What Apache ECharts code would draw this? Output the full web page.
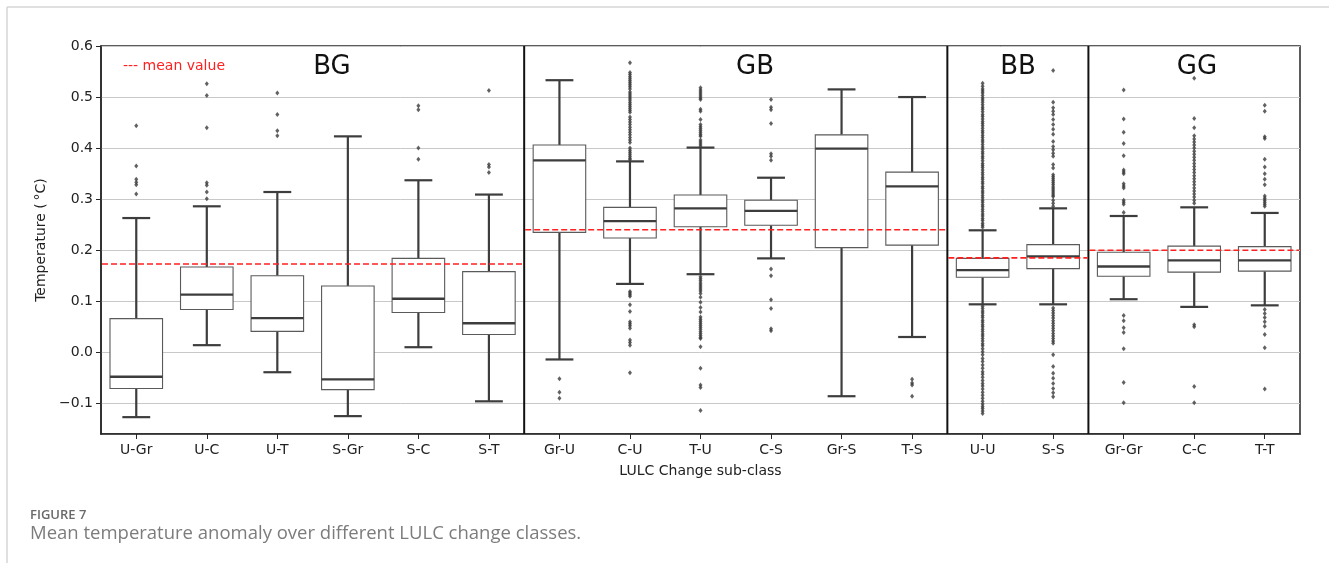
<!DOCTYPE html>
<html>
<head>
<meta charset="utf-8">
<script src="https://cdn.jsdelivr.net/npm/echarts@6/dist/echarts.min.js"></script>
<style>html,body{margin:0;padding:0;background:#fff}#c{width:1329px;height:563px}</style>
</head>
<body>
<div id="c"></div>
<script>
// ---------- data ----------
const categories = ['U-Gr','U-C','U-T','S-Gr','S-C','S-T','Gr-U','C-U','T-U','C-S','Gr-S','T-S','U-U','S-S','Gr-Gr','C-C','T-T'];
const whiskerLow  = [-0.127,0.014,-0.039,-0.125,0.010,-0.096,-0.014,0.134,0.153,0.184,-0.086,0.030,0.094,0.094,0.104,0.089,0.092];
const q1          = [-0.071,0.084,0.041,-0.073,0.078,0.035,0.235,0.224,0.246,0.249,0.205,0.210,0.147,0.164,0.149,0.157,0.159];
const median      = [-0.048,0.113,0.067,-0.053,0.105,0.057,0.376,0.257,0.282,0.277,0.399,0.325,0.161,0.188,0.168,0.180,0.180];
const q3          = [0.066,0.167,0.150,0.130,0.184,0.158,0.406,0.284,0.308,0.298,0.426,0.353,0.184,0.211,0.196,0.208,0.207];
const whiskerHigh = [0.263,0.286,0.314,0.423,0.337,0.309,0.533,0.374,0.401,0.342,0.515,0.500,0.239,0.282,0.267,0.284,0.273];

const groupNames = ['BG','GB','BB','GG'];
const groupStart = [0,6,12,14];
const groupEnd   = [5,11,13,16];
const groupMean  = [0.173,0.240,0.185,0.200];

const outUGr = [0.444,0.365,0.339,0.333,0.328,0.310];
const outUC  = [0.526,0.503,0.440,0.332,0.327,0.314,0.301];
const outUT  = [0.508,0.466,0.434,0.424];
const outSGr = [];
const outSC  = [0.483,0.475,0.400,0.378];
const outST  = [0.513,0.368,0.363,0.352];
const outGrU = [-0.052,-0.078,-0.090];
const outCU  = [0.567,0.548,0.544,0.540,0.536,0.532,0.528,0.524,0.520,0.516,0.510,0.506,0.502,0.498,0.494,0.490,0.486,0.482,0.478,0.474,0.470,0.461,0.456,0.451,0.446,0.441,0.436,0.431,0.426,0.421,0.416,0.411,0.400,0.396,0.392,0.388,0.384,0.380,0.377,
              0.119,0.116,0.113,0.110,0.093,0.080,0.060,0.056,0.052,0.047,0.024,0.019,0.014,-0.040];
const outTU  = [0.518,0.514,0.510,0.506,0.502,0.498,0.495,0.476,0.472,0.456,0.446,0.442,0.438,0.434,0.430,0.426,0.423,0.416,0.412,0.408,0.404,
              0.148,0.144,0.140,0.136,0.132,0.128,0.124,0.120,0.115,0.108,0.098,0.088,0.079,0.069,0.065,0.061,0.057,0.053,0.049,0.045,0.041,0.037,0.033,0.029,0.027,0.011,-0.031,-0.064,-0.069,-0.114];
const outCS  = [0.495,0.480,0.475,0.448,0.389,0.384,0.376,0.163,0.150,0.103,0.086,0.046,0.042];
const outGrS = [];
const outTS  = [-0.053,-0.060,-0.064,-0.086];
const outUU  = [0.527,0.521,0.516,0.512,0.508,0.503,0.498,0.494,0.490,0.485,0.480,0.476,0.471,0.466,0.462,0.457,0.452,0.448,0.444,0.439,0.434,0.430,0.425,0.421,0.416,0.412,0.407,0.402,0.398,0.393,0.389,0.384,0.380,0.375,0.370,0.366,0.362,0.357,0.352,0.348,0.343,0.339,0.334,0.330,0.325,0.321,0.316,0.312,0.307,0.303,0.298,0.294,0.289,0.285,0.280,0.276,0.271,0.267,0.262,0.258,0.253,0.249,0.245,
              0.090,0.086,0.081,0.077,0.072,0.068,0.063,0.059,0.054,0.050,0.045,0.041,0.036,0.032,0.027,0.022,0.017,0.013,0.007,0.001,-0.005,-0.012,-0.018,-0.025,-0.031,-0.038,-0.043,-0.049,-0.055,-0.061,-0.066,-0.072,-0.078,-0.084,-0.090,-0.096,-0.101,-0.106,-0.110,-0.115,-0.120];
const outSS  = [0.552,0.490,0.479,0.472,0.466,0.456,0.446,0.437,0.427,0.413,0.403,0.397,0.390,0.384,0.368,0.361,0.348,0.344,0.340,0.336,0.332,0.328,0.324,0.320,0.316,0.312,0.308,0.305,0.298,0.292,0.286,
              0.087,0.082,0.077,0.072,0.067,0.062,0.057,0.052,0.047,0.042,0.037,0.032,0.027,0.022,0.018,-0.005,-0.028,-0.041,-0.051,-0.061,-0.071,-0.079,-0.087];
const outGrGr = [0.514,0.457,0.431,0.409,0.385,0.357,0.353,0.350,0.330,0.326,0.322,0.298,0.294,0.290,0.274,0.072,0.062,0.048,0.039,0.007,-0.059,-0.099];
const outCC   = [0.537,0.458,0.440,0.424,0.418,0.412,0.406,0.400,0.394,0.388,0.382,0.376,0.370,0.364,0.358,0.352,0.346,0.340,0.334,0.328,0.322,0.316,0.310,0.304,0.298,0.292,0.054,0.050,-0.067,-0.099];
const outTT   = [0.484,0.472,0.422,0.419,0.378,0.363,0.350,0.339,0.328,0.306,0.302,0.298,0.294,0.290,0.286,0.084,0.076,0.068,0.060,0.051,0.035,0.009,-0.072];

const outliersByCat = [outUGr,outUC,outUT,outSGr,outSC,outST,outGrU,outCU,outTU,outCS,outGrS,outTS,outUU,outSS,outGrGr,outCC,outTT];

// ---------- build ----------
const boxData = categories.map((c,i)=>[i, whiskerLow[i], q1[i], median[i], q3[i], whiskerHigh[i]]);
const outData = [];
outliersByCat.forEach((arr,i)=>arr.forEach(v=>outData.push([i,v])));
const meanData = groupNames.map((g,i)=>[groupStart[i], groupEnd[i], groupMean[i]]);
const sepData = groupStart.slice(1).map(s=>[s]);

const DARK = '#3d3d3d';
const FONT = 'DejaVu Sans';

const chart = echarts.init(document.getElementById('c'), null, {renderer:'canvas'});

const option = {
  animation:false,
  backgroundColor:'#fff',
  grid:{left:101, right:29, top:46, bottom:129, show:true, borderColor:'#262626', borderWidth:1.5, backgroundColor:'transparent'},
  xAxis:{
    type:'category', data:categories, boundaryGap:true,
    name:'LULC Change sub-class', nameLocation:'middle', nameGap:30,
    nameTextStyle:{fontFamily:FONT, fontSize:14, color:'#222'},
    axisLine:{show:true, onZero:false, lineStyle:{color:'#262626', width:1.5}},
    axisTick:{show:true, alignWithLabel:true, length:5, lineStyle:{color:'#262626'}},
    axisLabel:{fontFamily:FONT, fontSize:14, color:'#222', margin:9, interval:0},
    splitLine:{show:false}
  },
  yAxis:{
    type:'value', min:-0.16, max:0.6, splitNumber:8,
    name:'Temperature (\u2009\u00b0C)', nameLocation:'middle', nameGap:48,
    nameTextStyle:{fontFamily:FONT, fontSize:14, color:'#222'},
    axisLine:{show:true, onZero:false, lineStyle:{color:'#262626', width:1.5}},
    axisTick:{show:true, length:5, lineStyle:{color:'#262626'}},
    axisLabel:{fontFamily:FONT, fontSize:14, color:'#222', margin:8, showMinLabel:false,
      formatter:v=>(v<-1e-9?'\u2212':'')+Math.abs(v).toFixed(1)},
    splitLine:{show:true, lineStyle:{color:'#c8c8c8', width:1}}
  },
  series:[
    {
      type:'custom', name:'boxes', data:boxData, z:3,
      encode:{x:0, y:[1,2,3,4,5]},
      renderItem:(params, api)=>{
        const idx = api.value(0);
        const bw = api.size([1,0])[0];
        const boxW = bw*0.745, capW = boxW*0.53;
        const x = api.coord([idx, 0])[0];
        const yLo = api.coord([idx, api.value(1)])[1];
        const yQ1 = api.coord([idx, api.value(2)])[1];
        const yMed = api.coord([idx, api.value(3)])[1];
        const yQ3 = api.coord([idx, api.value(4)])[1];
        const yHi = api.coord([idx, api.value(5)])[1];
        const ws = {stroke:DARK, lineWidth:2.2};
        return {type:'group', children:[
          {type:'line', shape:{x1:x,y1:yQ1,x2:x,y2:yLo}, style:ws},
          {type:'line', shape:{x1:x,y1:yQ3,x2:x,y2:yHi}, style:ws},
          {type:'line', shape:{x1:x-capW/2,y1:yLo,x2:x+capW/2,y2:yLo}, style:ws},
          {type:'line', shape:{x1:x-capW/2,y1:yHi,x2:x+capW/2,y2:yHi}, style:ws},
          {type:'rect', shape:{x:x-boxW/2, y:yQ3, width:boxW, height:yQ1-yQ3}, style:{fill:'#fff', stroke:'#5a5a5a', lineWidth:1.1}},
          {type:'line', shape:{x1:x-boxW/2,y1:yMed,x2:x+boxW/2,y2:yMed}, style:{stroke:DARK, lineWidth:2.4}}
        ]};
      }
    },
    {
      type:'scatter', name:'outliers', data:outData, z:4,
      symbol:'diamond', symbolSize:[4,5],
      itemStyle:{color:'#3a3a3a'}
    },
    {
      type:'custom', name:'separators', data:sepData, z:5,
      encode:{x:0},
      renderItem:(params, api)=>{
        const bw = api.size([1,0])[0];
        const x = api.coord([api.value(0), 0])[0] - bw/2;
        const cs = params.coordSys;
        return {type:'line', shape:{x1:x,y1:cs.y,x2:x,y2:cs.y+cs.height}, style:{stroke:'#111', lineWidth:2}};
      }
    },
    {
      type:'custom', name:'means', data:meanData, z:6,
      encode:{x:[0,1], y:2},
      renderItem:(params, api)=>{
        const bw = api.size([1,0])[0];
        const p1 = api.coord([api.value(0), api.value(2)]);
        const p2 = api.coord([api.value(1), api.value(2)]);
        return {type:'line', shape:{x1:p1[0]-bw/2+1, y1:p1[1], x2:p2[0]+bw/2-1, y2:p2[1]},
          style:{stroke:'#ff2020', lineWidth:1.6, lineDash:[6,3]}};
      }
    }
  ],
  graphic:[
    {type:'line', shape:{x1:7,y1:7,x2:1329,y2:7}, style:{stroke:'#d6d6d6', lineWidth:1.5}, silent:true},
    {type:'line', shape:{x1:7,y1:7,x2:7,y2:563}, style:{stroke:'#d6d6d6', lineWidth:1.5}, silent:true},
    {type:'text', left:123, top:59, style:{text:'--- mean value', fill:'#ff2020', font:'14px "DejaVu Sans"'}},
    {type:'text', x:332, y:67, style:{text:'BG', fill:'#111', font:'26px "DejaVu Sans"', align:'center', verticalAlign:'middle'}},
    {type:'text', x:755, y:67, style:{text:'GB', fill:'#111', font:'26px "DejaVu Sans"', align:'center', verticalAlign:'middle'}},
    {type:'text', x:1018, y:67, style:{text:'BB', fill:'#111', font:'26px "DejaVu Sans"', align:'center', verticalAlign:'middle'}},
    {type:'text', x:1197, y:67, style:{text:'GG', fill:'#111', font:'26px "DejaVu Sans"', align:'center', verticalAlign:'middle'}},
    {type:'text', left:30, top:509, style:{text:'FIGURE 7', fill:'#6a6a6a', font:'600 13px "Open Sans"'}},
    {type:'text', left:30, top:524, style:{text:'Mean temperature anomaly over different LULC change classes.', fill:'#7c7c7c', font:'18.5px "Open Sans"'}}
  ]
};
chart.setOption(option);
</script>
</body>
</html>
